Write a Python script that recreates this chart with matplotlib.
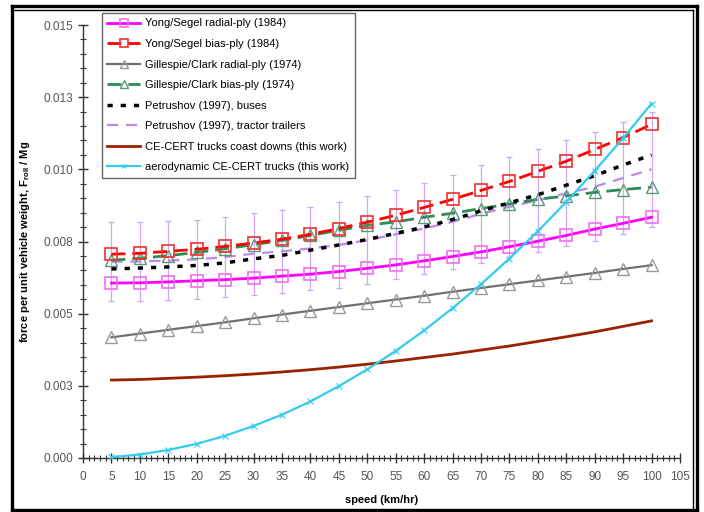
import matplotlib
matplotlib.use('Agg')
import matplotlib.pyplot as plt
from matplotlib.lines import Line2D
from matplotlib.ticker import MultipleLocator

# velocidad (km/hr)
velocidad = [5, 10, 15, 20, 25, 30, 35, 40, 45, 50, 55, 60, 65, 70, 75, 80, 85, 90, 95, 100]

yongRadial = [0.00606, 0.00607, 0.00610, 0.00614, 0.00618, 0.00623, 0.00630, 0.00637, 0.00646, 0.00657,
              0.00669, 0.00683, 0.00698, 0.00714, 0.00732, 0.00751, 0.00771, 0.00793, 0.00813, 0.00834]
yongBias = [0.00706, 0.00709, 0.00716, 0.00723, 0.00733, 0.00745, 0.00758, 0.00775, 0.00795, 0.00817,
            0.00841, 0.00868, 0.00896, 0.00927, 0.00958, 0.00993, 0.01028, 0.01069, 0.01110, 0.01156]
gillespieRadial = [0.00418, 0.00431, 0.00444, 0.00457, 0.00470, 0.00484, 0.00497, 0.00510, 0.00523, 0.00536,
                   0.00549, 0.00562, 0.00576, 0.00589, 0.00602, 0.00615, 0.00628, 0.00641, 0.00655, 0.00668]
gillespieBias = [0.00685, 0.00692, 0.00701, 0.00712, 0.00725, 0.00739, 0.00754, 0.00771, 0.00789, 0.00806,
                 0.00818, 0.00834, 0.00848, 0.00864, 0.00880, 0.00896, 0.00908, 0.00920, 0.00930, 0.00938]
petrushovBuses = [0.00655, 0.00658, 0.00662, 0.00667, 0.00676, 0.00690, 0.00702, 0.00720, 0.00738, 0.00757,
                  0.00778, 0.00800, 0.00826, 0.00856, 0.00884, 0.00912, 0.00945, 0.00978, 0.01015, 0.01050]
petrushovTrailers = [0.00680, 0.00681, 0.00684, 0.00688, 0.00696, 0.00708, 0.00716, 0.00726, 0.00738, 0.00755,
                     0.00775, 0.00795, 0.00818, 0.00846, 0.00870, 0.00893, 0.00917, 0.00940, 0.00970, 0.01000]
errorTrailers = [0.00136, 0.00136, 0.00137, 0.00138, 0.00139, 0.00142, 0.00143, 0.00145, 0.00148, 0.00151,
                 0.00155, 0.00159, 0.00164, 0.00169, 0.00174, 0.00179, 0.00183, 0.00188, 0.00194, 0.00200]
coastDowns = [0.00270, 0.00272, 0.00276, 0.00280, 0.00285, 0.00291, 0.00298, 0.00306, 0.00315, 0.00325,
              0.00336, 0.00348, 0.00360, 0.00374, 0.00388, 0.00404, 0.00420, 0.00437, 0.00456, 0.00475]
aerodinamico = [0.00003, 0.00012, 0.00028, 0.00049, 0.00077, 0.00111, 0.00150, 0.00196, 0.00249, 0.00307,
                0.00371, 0.00442, 0.00519, 0.00602, 0.00691, 0.00786, 0.00887, 0.00995, 0.01108, 0.01228]

yTicks = [0, 0.0025, 0.005, 0.0075, 0.01, 0.0125, 0.015]
yTickLabels = ['0.000', '0.003', '0.005', '0.008', '0.010', '0.013', '0.015']

plt.rcParams['font.family'] = ['Liberation Sans', 'DejaVu Sans']
plt.rcParams['mathtext.default'] = 'regular'

fig = plt.figure(figsize=(7.04, 5.12), dpi=100)
ax = fig.add_axes([83 / 704, 1 - 458 / 512, 597 / 704, 433 / 512])

# barras de error primero, quedan detras
ax.errorbar(velocidad, petrushovTrailers, yerr=errorTrailers, fmt='none', ecolor='#CDA8F5',
            elinewidth=0.9, capsize=2.5, capthick=0.9, zorder=1)

ax.plot(velocidad, yongRadial, color='#FF00FF', lw=2, marker='s', ms=9, mfc='none', mec='#F070F0',
        mew=1.2, label='Yong/Segel radial-ply (1984)', zorder=5)
ax.plot(velocidad, yongBias, color='#FF0000', lw=2, ls=(0, (5, 2.5)), marker='s', ms=9, mfc='none',
        mec='#F03030', mew=1.2, label='Yong/Segel bias-ply (1984)', zorder=5)
ax.plot(velocidad, gillespieRadial, color='#707070', lw=1.6, marker='^', ms=8, mfc='none', mec='#999999',
        mew=1, label='Gillespie/Clark radial-ply (1974)', zorder=4)
ax.plot(velocidad, gillespieBias, color='#2E8B57', lw=2, ls=(0, (5, 2.5)), marker='^', ms=8, mfc='none',
        mec='#5A9A70', mew=1, label='Gillespie/Clark bias-ply (1974)', zorder=4)
ax.plot(velocidad, petrushovBuses, color='black', lw=2.5, ls=(0, (1.5, 2.3)),
        label='Petrushov (1997), buses', zorder=4)
ax.plot(velocidad, petrushovTrailers, color='#BB88EE', lw=1.6, ls=(0, (5, 3.5)),
        label='Petrushov (1997), tractor trailers', zorder=3)
ax.plot(velocidad, coastDowns, color='#992200', lw=2, label='CE-CERT trucks coast downs (this work)', zorder=4)
ax.plot(velocidad, aerodinamico, color='#33CCEE', lw=1.6, marker='x', ms=5, mew=0.8,
        label='aerodynamic CE-CERT trucks (this work)', zorder=6)

ax.set_xlim(0, 105)
ax.set_ylim(0, 0.015)
ax.xaxis.set_major_locator(MultipleLocator(5))
ax.xaxis.set_minor_locator(MultipleLocator(1))
ax.set_yticks(yTicks)
ax.set_yticklabels(yTickLabels)
ax.yaxis.set_minor_locator(MultipleLocator(0.0005))
ax.tick_params(which='major', direction='inout', length=7, width=1, colors='#333333',
               labelcolor='#555555', labelsize=8.5)
ax.tick_params(which='minor', direction='inout', length=4, width=0.8, colors='#333333')
ax.tick_params(axis='x', pad=6)

for lado in ['top', 'right']:
    ax.spines[lado].set_visible(False)
for lado in ['left', 'bottom']:
    ax.spines[lado].set_color('#333333')
    ax.spines[lado].set_linewidth(1)

ax.set_xlabel('speed (km/hr)', fontsize=8, fontweight='bold')
ax.set_ylabel('force per unit vehicle weight, F$_{roll}$ / Mg', fontsize=8, fontweight='bold')
ax.xaxis.set_label_coords(0.5, -0.085)
ax.yaxis.set_label_coords(-0.085, 0.5)

leyenda = ax.legend(loc='upper left', bbox_to_anchor=(0.031, 1.028), borderaxespad=0, fontsize=8,
                    numpoints=1, markerscale=0.7, handlelength=3.0, handletextpad=0.4, labelspacing=0.95,
                    fancybox=False, framealpha=1, edgecolor='#666666', borderpad=0.5)
leyenda.get_frame().set_linewidth(1)

# marco doble de la figura
def px(x, y):
    return x / 704, 1 - y / 512

marco = [((12, 6), (697, 6)), ((697, 6), (697, 510)), ((697, 510), (12, 510)), ((12, 510), (12, 6))]
for a, b in marco:
    (x0, y0), (x1, y1) = px(*a), px(*b)
    fig.add_artist(Line2D([x0, x1], [y0, y1], transform=fig.transFigure, color='black', lw=2.4))
interior = [((12, 10), (693, 10)), ((693, 10), (693, 510))]
for a, b in interior:
    (x0, y0), (x1, y1) = px(*a), px(*b)
    fig.add_artist(Line2D([x0, x1], [y0, y1], transform=fig.transFigure, color='black', lw=1))

plt.savefig('out.png', dpi=100)
